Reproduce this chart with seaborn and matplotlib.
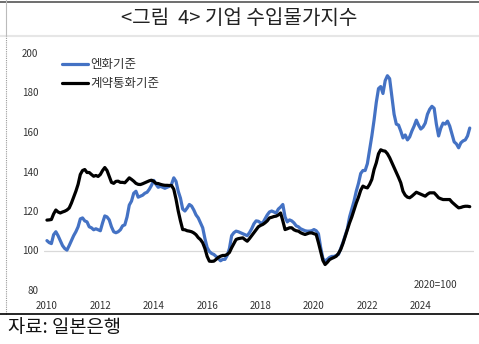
import numpy as np
import pandas as pd
import matplotlib
matplotlib.use("Agg")
import matplotlib.pyplot as plt
import seaborn as sns

# Monthly data, Jan 2010 onward
start_year = 2010
yen_basis = [
    105, 104, 103.5, 108, 109.5, 107.5, 105, 102.5, 101, 100.2, 102.5, 105,
    107.5, 109.5, 112, 116, 116.5, 115, 114.5, 112, 111.5, 110.5, 111, 110.5,
    110, 114, 117.5, 117, 115.5, 112, 109.5, 109, 109.5, 110.5, 112.5, 113,
    117, 123, 125, 129, 130, 127, 127.5, 128, 129, 129.5, 131, 133,
    135.5, 133.5, 132, 132.5, 132, 131.5, 132, 132.5, 133.5, 136.8, 135, 130,
    126.5, 121, 120, 121.5, 123.3, 122.5, 120.5, 118, 116.5, 114, 111.5, 106,
    101.5, 99.5, 98.5, 98, 97, 96, 94.8, 95.5, 95.5, 97.5, 101, 107.5,
    109, 109.8, 109.5, 109, 108.5, 108, 107.5, 109, 111, 113.5, 115, 114.8,
    114, 114, 116, 118, 119.5, 120, 119.5, 119, 121, 122, 123.3, 117,
    114.5, 115.5, 115, 114, 112.5, 112, 111, 110.5, 110, 109.8, 109.8, 110,
    110.6, 110, 108.5, 101.5, 96, 94.6, 95.5, 96.5, 97, 97, 97.5, 98,
    101, 104, 107.5, 111, 117, 121, 125, 130, 134, 139, 140.5, 140.5,
    144, 151, 158, 166, 175, 182, 183, 179.5, 186, 188.5, 187, 178,
    169, 164, 163.5, 160.5, 157, 158.5, 156, 157.5, 160.5, 163, 166, 163.5,
    161.5, 162.5, 164.5, 169, 171.5, 173, 172, 164, 158, 162, 164.5, 164,
    165.5, 163, 159, 155, 154, 152, 154.5, 155.5, 156, 158, 162,
]
contract_basis = [
    115.4, 115.5, 115.7, 118.5, 120.5, 119.5, 119, 119.5, 119.9, 120.5, 121.5, 124,
    127, 130, 133.5, 138.5, 140.5, 141, 139.5, 139.5, 138.5, 137.6, 138, 137.5,
    138.5, 140.5, 142, 140.5, 137.5, 134.5, 134, 135, 135.1, 134.5, 134.5, 134.3,
    135.5, 136.8, 136, 135.1, 134, 133.5, 133.4, 133.8, 134.3, 134.8, 135.3, 135.6,
    135, 134, 133.9, 133.5, 133.2, 133, 133, 132.9, 132.9, 131, 126, 120,
    115, 110.6, 110.5, 110, 109.8, 109.5, 108.9, 108, 106.5, 105.5, 103.9, 101,
    97, 94.6, 94.5, 94.6, 95.5, 96.5, 97.1, 97.5, 97.5, 98, 99, 101.4,
    103.5, 105.6, 106, 106.2, 106.4, 105.5, 104.7, 106, 107.5, 109, 110.5, 112,
    112.7, 113.2, 114, 115, 116.5, 116.8, 117.2, 117.4, 118, 119, 115, 110.6,
    111, 111.5, 111.5, 110.5, 110, 109.8, 109, 108.5, 108.1, 108.5, 108.9, 108.9,
    108.5, 108.1, 104, 99.6, 95, 92.9, 94, 95.4, 96, 96.5, 97.1, 98.5,
    100.5, 103.5, 107, 110.5, 114, 117, 120.5, 124, 127, 130.5, 132.6, 132,
    131.7, 133.5, 136, 141, 144.4, 149, 151, 150.5, 150.3, 149, 147, 144.5,
    141.9, 139.5, 137, 134.3, 130, 128, 127, 126.7, 127.5, 128.5, 129.5, 129,
    128.5, 128, 127.5, 128.5, 129.2, 129.2, 129.2, 128, 126.7, 126.2, 125.8, 125.8,
    125.8, 125.8, 124.5, 123.5, 122.5, 121.6, 121.8, 122.2, 122.4, 122.4, 122.2,
]
series_names = ["엔화기준", "계약통화기준"]
x_tick_labels = [2010, 2012, 2014, 2016, 2018, 2020, 2022, 2024]
y_ticks = [80, 100, 120, 140, 160, 180, 200]
title_text = "<그림  4> 기업 수입물가지수"
source_text = "자료: 일본은행"
base_note = "2020=100"

n = len(yen_basis)
t = start_year + np.arange(n) / 12.0
df = pd.DataFrame({
    "t": np.concatenate([t, t]),
    "value": yen_basis + contract_basis,
    "series": [series_names[0]] * n + [series_names[1]] * n,
})

sns.set_style("white")
plt.rcParams["font.family"] = ["Noto Sans CJK KR", "DejaVu Sans"]

fig = plt.figure(figsize=(4.79, 3.44), dpi=100)
ax = fig.add_axes([44 / 479, 54 / 344, 430 / 479, 237 / 344])

sns.lineplot(data=df, x="t", y="value", hue="series",
             palette={series_names[0]: "#4472C4", series_names[1]: "#000000"},
             linewidth=2.3, ax=ax, legend=True)

ax.set_xlim(2009.89, 2010 + 427 / 26.7)
ax.set_ylim(80, 200)
ax.axhline(100, color="#d9d9d9", linewidth=0.9, zorder=0)
ax.set_yticks(y_ticks)
ax.set_yticklabels([str(v) for v in y_ticks], fontsize=7, color="#333333")
ax.set_xticks(x_tick_labels)
ax.set_xticklabels([str(v) for v in x_tick_labels], fontsize=7, color="#333333")
ax.tick_params(axis="both", length=0, pad=4)
ax.tick_params(axis="x", pad=8)
ax.set_xlabel("")
ax.set_ylabel("")
for s in ax.spines.values():
    s.set_visible(False)

leg = ax.legend(loc="upper left", bbox_to_anchor=(0.030, 1.0), frameon=False,
                borderaxespad=0, fontsize=9, handlelength=2.1,
                handletextpad=0.15, labelspacing=0.5)
for txt in leg.get_texts():
    txt.set_color("#333333")

ax.text(0.96, 0.0, base_note, transform=ax.transAxes, ha="right", va="bottom",
        fontsize=7, color="#333333")

fig.text(0.5, 1 - 19 / 344, title_text, ha="center", va="center", fontsize=14.5, color="#222222")
fig.text(8 / 479, 1 - 327 / 344, source_text, ha="left", va="center", fontsize=13.5, color="#111111")

# frame lines
fig.add_artist(plt.Line2D([0, 1], [1 - 2 / 344, 1 - 2 / 344], color="#555555", linewidth=1.2, transform=fig.transFigure))
fig.add_artist(plt.Line2D([0, 1], [1 - 36 / 344, 1 - 36 / 344], color="#e6e6e6", linewidth=1.5, transform=fig.transFigure))
fig.add_artist(plt.Line2D([6 / 479, 6 / 479], [1 - 314 / 344, 1 - 36 / 344], color="#999999", linewidth=0.8, linestyle=(0, (1, 1)), transform=fig.transFigure))
fig.add_artist(plt.Line2D([6 / 479, 6 / 479], [1 - 36 / 344, 1], color="#bbbbbb", linewidth=0.8, transform=fig.transFigure))
fig.add_artist(plt.Line2D([0, 1], [1 - 314 / 344, 1 - 314 / 344], color="#000000", linewidth=1.2, transform=fig.transFigure))

fig.savefig("out.png", dpi=100)
